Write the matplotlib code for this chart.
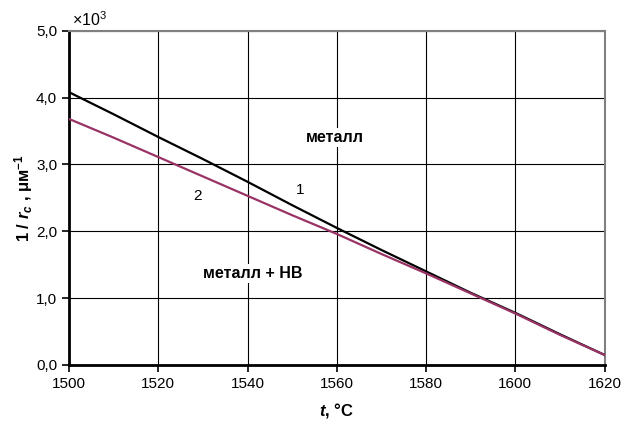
import matplotlib
matplotlib.use("Agg")
import matplotlib.pyplot as plt

plt.rcParams['font.family'] = ['Liberation Sans', 'DejaVu Sans']
plt.rcParams['mathtext.fontset'] = 'custom'
plt.rcParams['mathtext.rm'] = 'Liberation Sans'
plt.rcParams['mathtext.it'] = 'Liberation Sans:italic:bold'
plt.rcParams['mathtext.bf'] = 'Liberation Sans:bold'

# temperature, deg C
t = [1500, 1510, 1520, 1530, 1540, 1550, 1560, 1570, 1580, 1590, 1600, 1610, 1620]
# curve 1 (metal), x10^3
curve1 = [4.08, 3.75, 3.41, 3.08, 2.74, 2.39, 2.05, 1.72, 1.40, 1.08, 0.78, 0.46, 0.15]
# curve 2 (metal + NV), x10^3
curve2 = [3.68, 3.40, 3.11, 2.82, 2.53, 2.24, 1.96, 1.66, 1.37, 1.07, 0.77, 0.45, 0.15]

x_ticks = [1500, 1520, 1540, 1560, 1580, 1600, 1620]
y_ticks = [0, 1, 2, 3, 4, 5]
y_labels = ['0,0', '1,0', '2,0', '3,0', '4,0', '5,0']

fig = plt.figure(figsize=(6.25, 4.26), dpi=100)
ax = fig.add_axes([0.1104, 0.1432, 0.857, 0.7848])

ax.plot(t, curve1, color='black', lw=1.6, zorder=3)
ax.plot(t, curve2, color='#993366', lw=1.6, zorder=3)

ax.set_xlim(1500, 1620)
ax.set_ylim(0, 5)
ax.set_xticks(x_ticks)
ax.set_yticks(y_ticks)
ax.set_yticklabels(y_labels)
ax.tick_params(labelsize=11, direction='out', length=5, width=1.2, color='black')
ax.grid(True, color='black', lw=0.8)
ax.set_axisbelow(True)

for side in ['left', 'bottom']:
    ax.spines[side].set_linewidth(2)
    ax.spines[side].set_color('black')
for side in ['top', 'right']:
    ax.spines[side].set_linewidth(1.5)
    ax.spines[side].set_color('#808080')

ax.set_xlabel(r'$t$, °C', fontsize=12, fontweight='bold', labelpad=7)
ax.set_ylabel(r'1 / $r_c$ , μм$^{\mathbf{-1}}$', fontsize=12, fontweight='bold', labelpad=1)

fig.text(0.116, 0.953, r'$\times10^{3}$', fontsize=11.5, ha='left', va='center')

box = dict(facecolor='white', edgecolor='none', pad=1.5)
ax.text(1559.6, 3.40, 'металл', fontsize=11.5, fontweight='bold', ha='center', va='center', bbox=box, zorder=4)
ax.text(1541.2, 1.37, 'металл + НВ', fontsize=11.5, fontweight='bold', ha='center', va='center', bbox=box, zorder=4)
ax.text(1551.7, 2.61, '1', fontsize=11, ha='center', va='center', zorder=4)
ax.text(1528.9, 2.52, '2', fontsize=11, ha='center', va='center', zorder=4)

fig.savefig('out.png', dpi=100)
